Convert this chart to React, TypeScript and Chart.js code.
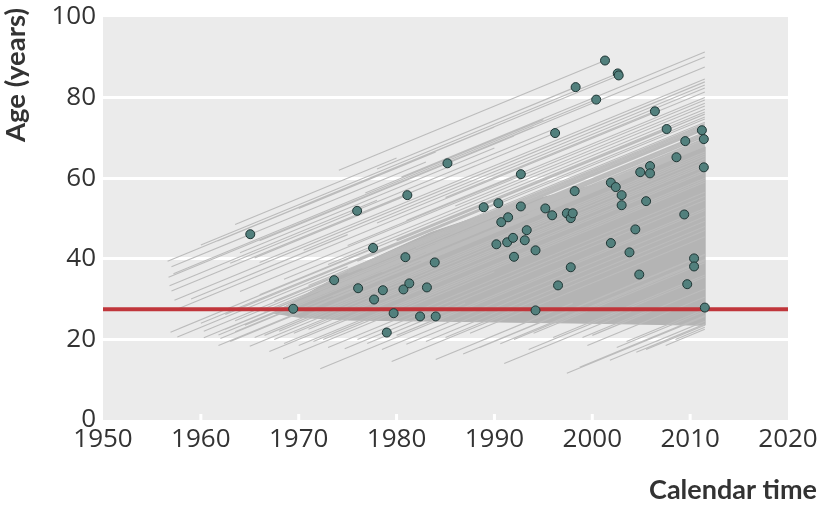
import React, { useEffect, useRef } from "react";
import { Chart, registerables } from "chart.js";

Chart.register(...registerables);

// Axis ticks
const xTickValues = [1950, 1960, 1970, 1980, 1990, 2000, 2010, 2020];
const yTickValues = [0, 20, 40, 60, 80, 100];
const referenceAge = 27.5;

// Events (calendar year, age at event)
const eventYear = [
  1965.05, 1969.44, 1973.62, 1975.97, 1976.07, 1977.6, 1977.7, 1978.6, 1979.0, 1979.7,
  1980.7, 1980.9, 1981.1, 1981.3, 1982.4, 1983.1, 1983.9, 1984.0, 1985.2, 1988.9,
  1990.2, 1990.4, 1990.7, 1991.3, 1991.4, 1991.9, 1992.0, 1992.7, 1992.7, 1993.1,
  1993.3, 1994.2, 1994.2, 1995.2, 1995.9, 1996.2, 1996.5, 1997.4, 1997.8, 1998.0,
  1997.8, 1998.2, 1998.3, 2000.4, 2001.3, 2001.9, 2001.9, 2002.6, 2002.7, 2002.4,
  2003.0, 2003.0, 2003.8, 2004.4, 2004.8, 2004.9, 2005.5, 2005.9, 2005.9, 2006.4,
  2007.6, 2008.6, 2009.4, 2009.5, 2009.7, 2010.4, 2010.4, 2011.2, 2011.4, 2011.4,
  2011.5,
];
const eventAge = [
  46.1, 27.6, 34.7, 51.9, 32.7, 42.7, 29.9, 32.2, 21.7, 26.5,
  32.4, 40.4, 55.8, 33.9, 25.7, 32.9, 39.1, 25.7, 63.7, 52.8,
  43.6, 53.8, 49.1, 44.1, 50.3, 45.2, 40.5, 61.0, 53.0, 44.6,
  47.1, 42.1, 27.2, 52.5, 50.8, 71.2, 33.4, 51.3, 50.1, 51.3,
  37.9, 56.8, 82.6, 79.5, 89.2, 58.9, 43.9, 86.0, 85.5, 57.8,
  55.8, 53.3, 41.6, 47.3, 36.1, 61.5, 54.3, 63.0, 61.2, 76.6,
  72.2, 65.2, 51.0, 69.2, 33.7, 40.1, 38.1, 71.9, 69.7, 62.7,
  27.9,
];

// Individual follow-up lines: entry year, entry age, exit year
const lineStartYear = [
  // lines ending in an event
  1958.0, 1963.0, 1966.0, 1965.5, 1966.0, 1975.0, 1977.0, 1978.0, 1957.2, 1974.1,
  1960.0, 1956.6, 1985.0, 1980.0, 1990.0, 1988.0, 1982.0, 1995.0, 1972.0, 1976.0,
  1983.0, 1987.0, 1963.5, 1968.0, 1971.0, 1966.5, 1962.0,
  // censored at end of follow-up (upper part)
  1980.5, 1983.8, 1975.3, 1966.0, 1957.3, 1970.5, 1978.0, 1957.5, 1964.0, 1986.0,
  1968.5, 1973.0, 1957.8, 1980.0, 1962.5, 1990.0, 1971.0, 1960.3, 1976.5, 1966.5,
  1984.0, 1961.8, 1969.0, 1978.5, 1993.5, 1973.5, 1987.0, 1981.0,
  1967.5, 1975.0, 1985.5, 1972.0, 1980.5, 1963.5, 1991.0, 1970.0, 1982.5,
  // lost to follow-up
  1957.0, 1956.7, 1957.0, 1956.9, 1961.7, 1976.8, 1963.5, 1968.0, 1964.0, 1970.0,
  1956.8, 1959.0,
  // young entrants
  1963.0, 1965.5, 1966.5, 1967.5, 1968.0, 1968.5, 1969.5, 1970.0, 1970.5, 1971.5,
  1972.5, 1973.0, 1964.5, 1962.5, 1960.0, 1957.6, 1960.3, 1961.8, 1968.4,
  1972.2, 1974.7, 1981.0, 1986.8, 1990.6, 1997.4, 1998.7, 2001.8, 2004.5, 1965.0,
  1967.0, 1976.0, 1978.5, 1983.0, 1985.0, 1988.5, 1992.0, 1993.5, 1995.0, 1996.0,
  1999.5, 2002.5, 2003.5, 2005.5, 2006.5, 2007.5, 2008.5, 1980.0, 1987.5, 1994.0,
  2000.0, 1971.0, 1973.5,
  1979.5, 1984.0, 1991.0, 1977.0, 1989.0, 1999.0,
];
const lineStartAge = [
  39.0, 38.9, 31.1, 40.2, 44.5, 43.3, 52.0, 62.3, 36.3, 62.0,
  43.4, 39.4, 55.2, 44.6, 46.6, 47.7, 42.7, 53.3, 35.9, 39.4,
  41.6, 44.0, 24.6, 27.5, 26.2, 23.1, 20.2,
  60.3, 62.4, 51.4, 39.1, 29.7, 42.1, 48.9, 27.4, 31.9, 53.1,
  34.9, 38.6, 22.7, 44.4, 26.2, 53.2, 33.4, 22.0, 37.6, 27.0,
  43.9, 21.1, 27.8, 36.7, 51.2, 30.7, 43.7, 49.5,
  29.5, 36.4, 46.3, 31.6, 39.5, 21.9, 48.9, 27.4, 39.4,
  38.0, 35.4, 32.0, 21.8, 44.4, 56.3, 48.5, 46.5, 41.5, 52.5,
  33.3, 30.0,
  19.5, 20.5, 21.0, 20.0, 22.0, 19.0, 21.5, 18.5, 20.5, 19.5,
  20.0, 18.0, 23.5, 22.5, 24.0, 20.6, 20.4, 18.5, 15.2,
  12.7, 17.7, 18.8, 16.4, 18.9, 11.6, 13.1, 14.8, 16.8, 18.3,
  17.0, 20.0, 17.5, 19.5, 20.5, 18.0, 20.0, 17.5, 19.0, 20.5,
  18.5, 18.0, 19.5, 17.5, 19.5, 18.5, 20.0, 21.0, 21.5, 21.5,
  21.0, 22.5, 21.5,
  14.5, 15.0, 14.0, 19.0, 20.0, 20.5,
];
const lineEndYear = [
  1965.05, 1975.97, 1977.6, 1981.1, 1985.2, 1992.7, 1996.2, 1998.3, 2000.4, 2001.3,
  2002.6, 2002.7, 2006.4, 2007.6, 2008.6, 2009.5, 2011.2, 2011.4, 1988.9, 1990.4,
  1998.2, 2001.9, 1973.62, 1980.9, 1983.9, 1976.07, 1969.44,
  2011.5, 2011.5, 2011.5, 2011.5, 2011.5, 2011.5, 2011.5, 2011.5, 2011.5, 2011.5,
  2011.5, 2011.5, 2011.5, 2011.5, 2011.5, 2011.5, 2011.5, 2011.5, 2011.5, 2011.5,
  2011.5, 2011.5, 2011.5, 2011.5, 2011.5, 2011.5, 2011.5, 2011.5,
  2011.5, 2011.5, 2011.5, 2011.5, 2011.5, 2011.5, 2011.5, 2011.5, 2011.5,
  1983.0, 1994.0, 1988.0, 1990.0, 1990.0, 1995.0, 1980.0, 1992.0, 1990.0, 1984.0,
  1978.0, 1975.0,
  2011.5, 2011.5, 2011.5, 2011.5, 2011.5, 2011.5, 2011.5, 2011.5, 2011.5, 2011.5,
  2011.5, 2011.5, 2011.5, 1985.0, 1980.0, 1975.0, 1982.0, 1995.0, 1990.0,
  2011.5, 2011.5, 2011.5, 2011.5, 2011.5, 2011.5, 2011.5, 2011.5, 2011.5, 2011.5,
  2011.5, 2011.5, 2011.5, 2011.5, 2011.5, 2011.5, 2011.5, 2011.5, 2011.5, 2011.5,
  2011.5, 2011.5, 2011.5, 2011.5, 2011.5, 2011.5, 2011.5, 2011.5, 2011.5, 2011.5,
  2011.5, 2011.5, 2011.5,
  1992.0, 1998.0, 2004.0, 1987.0, 1996.0, 2006.0,
];

// Outline of the densely overlapping band of follow-up lines
const bandYear = [1967.5, 1970.2, 1975.3, 1983.5, 1992.0, 2000.5, 2006.0, 2011.5, 2011.5, 2000.0, 1985.0, 1975.0, 1970.0, 1967.5];
const bandAge = [26.5, 30.4, 37.5, 46.5, 53.5, 58.5, 63.0, 67.8, 23.5, 24.0, 24.5, 24.8, 25.5, 26.5];

const TICK_FONT = "'Open Sans', Lato, sans-serif";
const TITLE_FONT = "Lato, 'Open Sans', sans-serif";

const backgroundPlugin = {
  id: "panelBackground",
  beforeDraw(chart: any) {
    const { ctx, chartArea } = chart;
    if (!chartArea) return;
    ctx.save();
    ctx.fillStyle = "#ebebeb";
    ctx.fillRect(chartArea.left, chartArea.top, chartArea.right - chartArea.left, chartArea.bottom - chartArea.top);
    ctx.restore();
  },
  beforeDatasetsDraw(chart: any) {
    const { ctx, chartArea, scales } = chart;
    ctx.save();
    ctx.fillStyle = "#ffffff";
    xTickValues.forEach((v) => {
      if (v === 1950 || v === 2020) return;
      const px = scales.x.getPixelForValue(v);
      ctx.fillRect(px - 1.5, chartArea.bottom - 6, 3, 6);
    });
    ctx.restore();
  },
  afterDraw(chart: any) {
    const { ctx } = chart;
    ctx.save();
    ctx.fillStyle = "#333333";
    ctx.font = `bold 27px ${TITLE_FONT}`;
    ctx.textAlign = "right";
    ctx.textBaseline = "alphabetic";
    ctx.fillText("Calendar time", 817, 499);
    ctx.translate(16, 8);
    ctx.rotate(-Math.PI / 2);
    ctx.font = `bold 27.5px ${TITLE_FONT}`;
    ctx.textAlign = "right";
    ctx.textBaseline = "middle";
    ctx.fillText("Age (years)", 0, 0);
    ctx.restore();
  },
};

export default function App() {
  const canvasRef = useRef<HTMLCanvasElement | null>(null);

  useEffect(() => {
    if (!canvasRef.current) return;

    const eventPoints = eventYear.map((x, i) => ({ x, y: eventAge[i] }));
    const linePoints: { x: number; y: number | null }[] = [];
    lineStartYear.forEach((s, i) => {
      const a = lineStartAge[i];
      const e = lineEndYear[i];
      linePoints.push({ x: s, y: a });
      linePoints.push({ x: e, y: a + (e - s) });
      linePoints.push({ x: e, y: null });
    });
    const bandPoints = bandYear.map((x, i) => ({ x, y: bandAge[i] }));

    const chart = new Chart(canvasRef.current, {
      type: "scatter",
      data: {
        datasets: [
          {
            label: "Events",
            data: eventPoints,
            showLine: false,
            pointRadius: 4.5,
            pointBackgroundColor: "#52807d",
            pointBorderColor: "#1f3534",
            pointBorderWidth: 1,
            order: 0,
          },
          {
            label: "Reference age",
            data: [
              { x: 1950, y: referenceAge },
              { x: 2020, y: referenceAge },
            ],
            showLine: true,
            borderColor: "#c0363b",
            borderWidth: 4,
            pointRadius: 0,
            order: 1,
          },
          {
            label: "Follow-up",
            data: linePoints,
            showLine: true,
            spanGaps: false,
            borderColor: "#bcbcbc",
            borderWidth: 1.1,
            pointRadius: 0,
            order: 2,
          },
          {
            label: "Dense follow-up",
            data: bandPoints,
            showLine: true,
            borderColor: "#b4b4b4",
            borderWidth: 1,
            backgroundColor: "#b4b4b4",
            fill: "shape",
            pointRadius: 0,
            order: 3,
          },
        ] as any,
      },
      options: {
        animation: false,
        responsive: true,
        maintainAspectRatio: false,
        events: [],
        layout: { padding: { top: 17, right: 36, bottom: 0, left: 0 } },
        plugins: {
          legend: { display: false },
          tooltip: { enabled: false },
        },
        scales: {
          x: {
            type: "linear",
            min: 1950,
            max: 2020,
            afterBuildTicks: (s: any) => {
              s.ticks = xTickValues.map((v) => ({ value: v }));
            },
            afterFit: (s: any) => {
              s.height = 88;
              s.paddingLeft = 0;
              s.paddingRight = 0;
            },
            grid: { display: false, drawTicks: false },
            border: { display: false },
            ticks: {
              padding: 4,
              autoSkip: false,
              maxRotation: 0,
              color: "#333333",
              font: { family: TICK_FONT, size: 26 },
              callback: (v: any) => String(v),
            },
          },
          y: {
            type: "linear",
            min: 0,
            max: 100,
            afterBuildTicks: (s: any) => {
              s.ticks = yTickValues.map((v) => ({ value: v }));
            },
            afterFit: (s: any) => {
              s.width = 103;
              s.paddingTop = 0;
              s.paddingBottom = 0;
            },
            grid: {
              drawTicks: false,
              lineWidth: 3,
              color: (c: any) =>
                c.tick && (c.tick.value === 0 || c.tick.value === 100) ? "rgba(0,0,0,0)" : "#ffffff",
            },
            border: { display: false },
            ticks: {
              padding: 7,
              color: "#333333",
              font: { family: TICK_FONT, size: 26 },
            },
          },
        },
      } as any,
      plugins: [backgroundPlugin],
    });

    return () => chart.destroy();
  }, []);

  return (
    <div style={{ position: "absolute", left: 0, top: 0, width: 824, height: 508 }}>
      <canvas ref={canvasRef} />
    </div>
  );
}
